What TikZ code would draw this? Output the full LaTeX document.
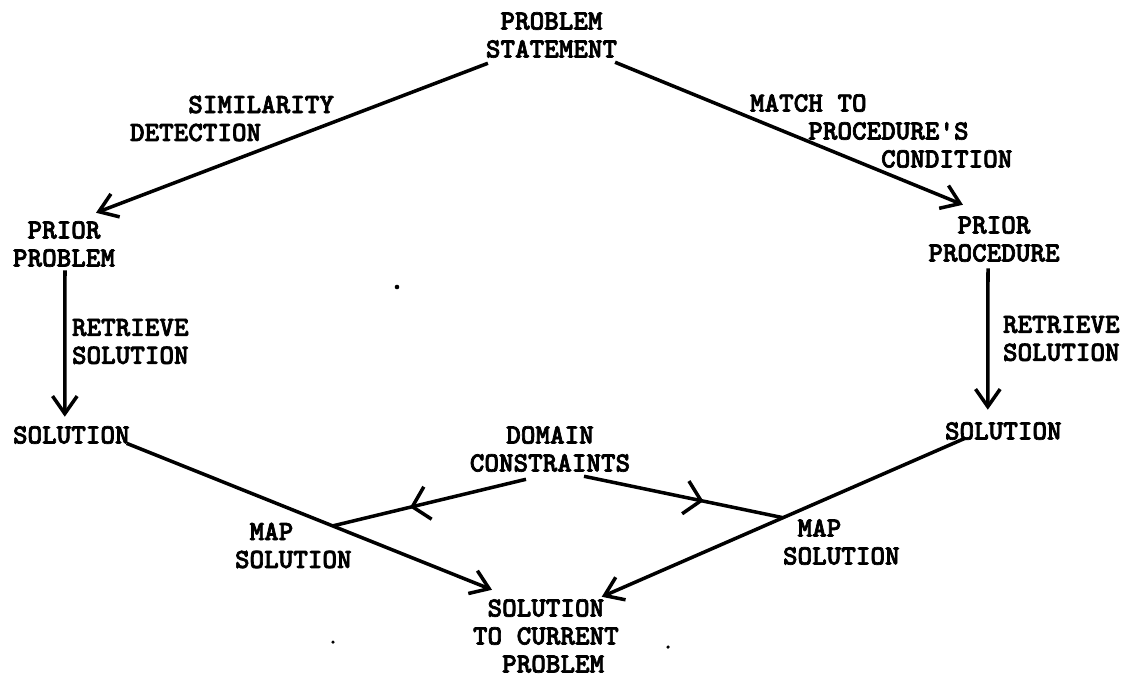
\documentclass[tikz,border=0pt]{standalone}
\usepackage{fontspec}
\newfontfamily\twfont[Extension=.otf,FakeBold=2.5]{lmmonolt10-bold}
\usetikzlibrary{arrows.meta,decorations.markings}
\tikzset{
  lbl/.style={font=\fontsize{15.8pt}{15.9pt}\selectfont\twfont, inner sep=0pt, outer sep=0pt},
  conn/.style={line width=2pt},
  arr/.style={conn, -{Straight Barb[length=10pt,width=14pt]}},
  midarr/.style={conn, postaction={decorate}, decoration={markings,
     mark=at position 0.6 with {\arrow{Straight Barb[length=9pt,width=19pt]}}}},
}
\begin{document}
\begin{tikzpicture}[x=0.02cm,y=-0.02cm]
\useasboundingbox (0,0) rectangle (1129,677);

% nodes
\node[lbl, align=center] (ps) at (551.5,35) {PROBLEM\\STATEMENT};
\node[lbl, align=left, anchor=west] (sim) at (130,118.5) {\phantom{XXXX}SIMILARITY\\DETECTION};
\node[lbl, align=left, anchor=west] (mt) at (750,131) {MATCH TO\\\phantom{XXXX}PROCEDURE\textquotesingle S\\\phantom{XXXXXXXXX}CONDITION};
\node[lbl, align=center] (pp) at (64,244) {PRIOR\\PROBLEM};
\node[lbl, align=center] (ppr) at (994,239) {PRIOR\\PROCEDURE};
\node[lbl, align=left, anchor=west] (retl) at (72,341.5) {RETRIEVE\\SOLUTION};
\node[lbl, align=left, anchor=west] (retr) at (1003,338.5) {RETRIEVE\\SOLUTION};
\node[lbl, anchor=west] (soll) at (13,435) {SOLUTION};
\node[lbl, anchor=west] (solr) at (945,431) {SOLUTION};
\node[lbl, align=center] (dc) at (550,449) {DOMAIN\\CONSTRAINTS};
\node[lbl, align=left, anchor=west] (mapl) at (235,545.5) {\phantom{X}MAP\\SOLUTION};
\node[lbl, align=left, anchor=west] (mapr) at (783,542) {\phantom{X}MAP\\SOLUTION};
\node[lbl, align=left, anchor=west] (sc) at (473,636) {\phantom{X}SOLUTION\\TO CURRENT\\\phantom{XX}PROBLEM};

% connectors
\draw[arr] ([shift={(2,5.5)}]ps.south west) -- ([shift={(-19,-8.5)}]pp.north east);
\draw[arr] ([shift={(-2,4.5)}]ps.south east) -- ([shift={(34.5,-11.5)}]ppr.north west);
\draw[arr] ([shift={(1,3.5)}]pp.south) -- ([shift={(-6.5,-9.5)}]soll.north);
\draw[arr] ([shift={(-6,6.5)}]ppr.south) -- ([shift={(-15.5,-12.5)}]solr.north);
\draw[arr] ([shift={(-3,-0.5)}]soll.south east) -- coordinate[pos=0.564] (j1) ([shift={(19,-9.5)}]sc.north west);
\draw[arr] ([shift={(20,-1.5)}]solr.south west) -- coordinate[pos=0.501] (j2) ([shift={(-17,-2.5)}]sc.north east);
\draw[midarr] ([shift={(-24,7.5)}]dc.south) -- (j1);
\draw[midarr] ([shift={(34,4.5)}]dc.south) -- (j2);

% stray marks of the original
\fill (397,287) circle[radius=1.3pt];
\fill (333,642) circle[radius=1pt];
\fill (668,647) circle[radius=1pt];
\end{tikzpicture}
\end{document}
